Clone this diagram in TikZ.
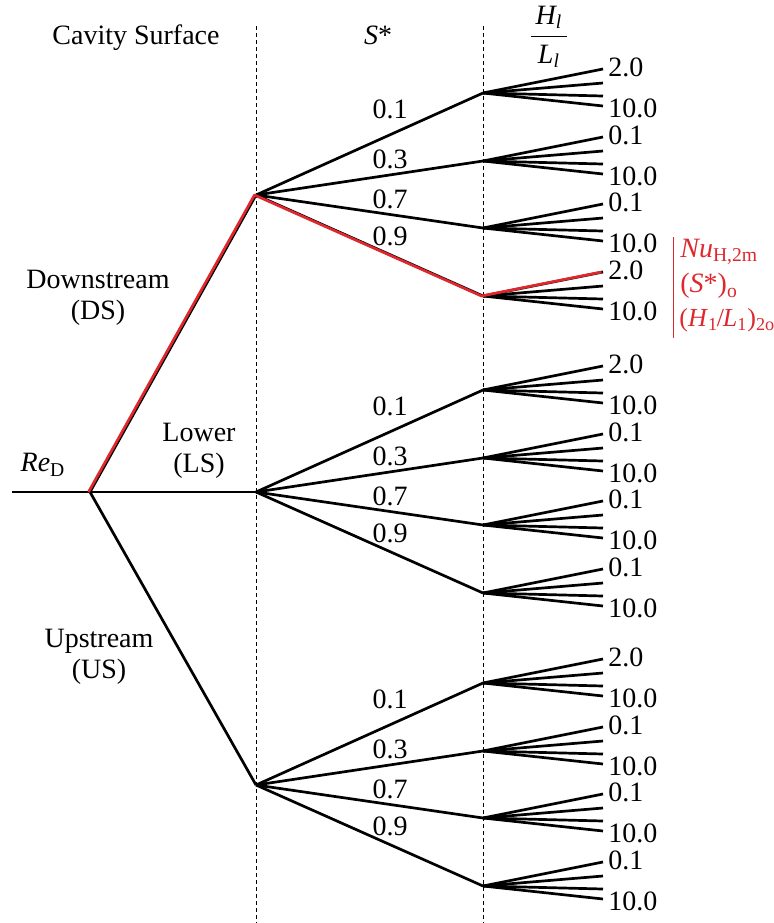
\documentclass[tikz,border=0pt]{standalone}
\usepackage{fontspec}
\setmainfont{Liberation Serif}
\usepackage{xcolor}
\usetikzlibrary{positioning,calc}
\definecolor{optred}{RGB}{222,40,45}

\begin{document}
\begin{tikzpicture}[x=0.5pt,y=-0.5pt,font=\fontsize{14}{15.5}\selectfont,
  branch/.style={line width=1.35pt,line join=round},
  optpath/.style={optred,line width=1.35pt,line join=round,transform canvas={xshift=-0.75pt}},
  guide/.style={line width=0.5pt,dash pattern=on 2pt off 1.5pt},
  val/.style={inner sep=0pt}]
\useasboundingbox (0,0) rectangle (773,923);
% headers
\node[anchor=base] (hcav) at (136,44) {Cavity Surface};
\node[anchor=base] (hs) at (378,44) {\textit{S}*};
\node (hratio) at (549,37) {$\displaystyle\frac{\mbox{\,\textit{H\textsubscript{l}}\,}}{\mbox{\,\textit{L\textsubscript{l}}\,}}$};
\coordinate (g1top) at (256,26); \coordinate (g1bot) at (256,923);
\coordinate (g2top) at (483,26); \coordinate (g2bot) at (483,923);
\draw[guide] (g1top) -- (g1bot);
\draw[guide] (g2top) -- (g2bot);
% cavity surface
\coordinate (in) at (12,492);
\coordinate (root) at (90,492);
\coordinate (ds) at (256,195);
\coordinate (ls) at (256,492);
\coordinate (us) at (256,785);
\draw[branch] (in) -- (root);
\foreach \s in {ds,ls,us} \draw[branch] (root) -- (\s);
\node (lre) at (43,465) {\textit{Re}\textsubscript{D}};
\node[align=center] (lds) at (98,298) {Downstream\\(DS)};
\node[align=center] (lls) at (199,451) {Lower\\(LS)};
\node[align=center] (lus) at (99,657) {Upstream\\(US)};
% S* branches and H/L fans
\foreach \s/\y/\ta/\tb/\tc/\td in {ds/195/2.0/0.1/0.1/2.0,ls/492/2.0/0.1/0.1/0.1,us/785/2.0/0.1/0.1/0.1}{
  \foreach \k/\dy/\ly/\sv/\ty in {1/-102/-86/0.1/\ta,2/-34/-36/0.3/\tb,3/33/4/0.7/\tc,4/101/41/0.9/\td}{
    \coordinate (\s-\k) at (483,\y+\dy);
    \draw[branch] (\s) -- (\s-\k);
    \node[val] (\s-\k-sv) at (390,\y+\ly) {\sv};
    \foreach \j/\ey in {a/-24,b/-10,c/3,d/13}{
      \coordinate (\s-\k-\j) at (603,\y+\dy+\ey);
      \draw[branch] (\s-\k) -- (\s-\k-\j);
    }
    \node[val,anchor=west] (\s-\k-hi) at ($(\s-\k-a)+(5,-1.5)$) {\ty};
    \node[val,anchor=west] (\s-\k-lo) at ($(\s-\k-d)+(5,2)$) {10.0};
  }
}
% optimum path
\draw[optpath] (root) -- (ds) -- (ds-4) -- (ds-4-a);
\coordinate (bartop) at (673,237);
\coordinate (barbot) at (673,338);
\draw[optred,line width=0.5pt] (bartop) -- (barbot);
\node[val,anchor=west,text=optred] (onu) at (680,252) {\textit{Nu}\textsubscript{H,2m}};
\node[val,anchor=west,text=optred] (os) at (680,286) {(\textit{S}*)\textsubscript{o}};
\node[val,anchor=west,text=optred,font=\fontsize{13}{15}\selectfont] (ohl) at (679,320) {(\textit{H}\textsubscript{1}\kern-0.6pt/\kern-0.6pt\textit{L}\textsubscript{1})\textsubscript{2o}};
\end{tikzpicture}
\end{document}
